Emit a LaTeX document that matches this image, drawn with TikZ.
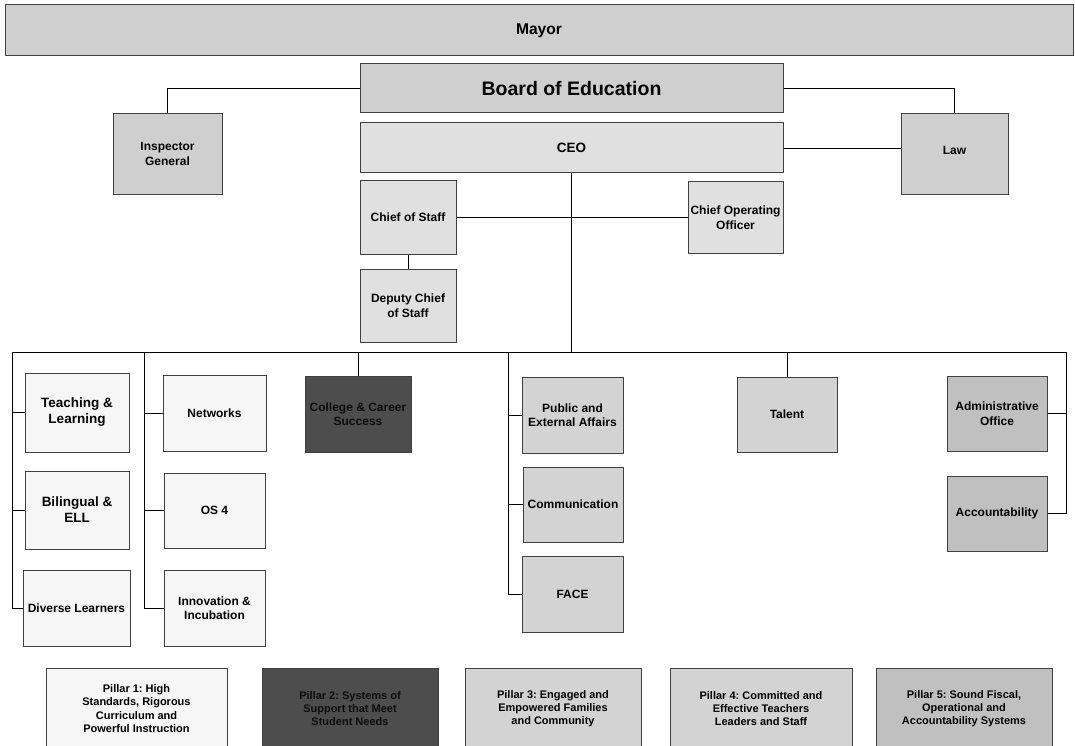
\documentclass[tikz,border=0pt]{standalone}
\usepackage{fontspec}
\setmainfont{Liberation Sans}
\usepackage{tikz}
\usepackage{xcolor}

\definecolor{topgray}{HTML}{CFCFCF}
\definecolor{ceogray}{HTML}{E0E0E0}
\definecolor{pale}{HTML}{F6F6F6}
\definecolor{dark}{HTML}{4D4D4D}
\definecolor{midgray}{HTML}{D3D3D3}
\definecolor{deepgray}{HTML}{C0C0C0}

\tikzset{
  box/.style={draw=black!75,line width=1pt,inner sep=1pt,align=center,
    font={\fontsize{12}{14.5}\selectfont\bfseries}},
  pillar/.style={box,minimum height=81pt,
    font={\fontsize{11}{13.3}\selectfont\bfseries}},
  link/.style={draw=black,line width=0.8pt}
}
\frenchspacing

\begin{document}
\begin{tikzpicture}[x=1pt,y=-1pt]
\useasboundingbox (0,0) rectangle (1075,746);
\path
    (539,30.5) node [box,fill=topgray,minimum width=1068pt,minimum height=51pt,
      font={\fontsize{15.6}{18}\selectfont\bfseries}] (mayor) {Mayor}
    (571.5,88.5) node [box,fill=topgray,minimum width=423pt,minimum height=49pt,
      font={\fontsize{19.5}{22}\selectfont\bfseries}] (board) {Board of Education}
    (167.5,154) node [box,fill=topgray,minimum width=109pt,minimum height=80pt] (insp) {Inspector\\General}
    (954.5,154) node [box,fill=topgray,minimum width=107pt,minimum height=80pt] (law) {\raisebox{8pt}{Law}}
    (571.5,148) node [box,fill=ceogray,minimum width=423pt,minimum height=50pt,
      font={\fontsize{13.5}{16}\selectfont\bfseries}] (ceo) {CEO}
    (408,217.5) node [box,fill=ceogray,minimum width=96pt,minimum height=73pt] (cos) {Chief of Staff}
    (735.5,217.5) node [box,fill=ceogray,minimum width=95pt,minimum height=71pt] (coo) {Chief Operating\\Officer}
    (408,305.5) node [box,fill=ceogray,minimum width=96pt,minimum height=73pt] (dep) {Deputy Chief\\of Staff};

\path
    (77,412.5) node [box,fill=pale,minimum width=104pt,minimum height=79pt,
      font={\fontsize{13.5}{16}\selectfont\bfseries}] (teach) {Teaching \&\\Learning}
    (77,510) node [box,fill=pale,minimum width=104pt,minimum height=78pt,
      font={\fontsize{13.5}{16}\selectfont\bfseries}] (biling) {Bilingual \&\\ELL}
    (76.5,608) node [box,fill=pale,minimum width=107pt,minimum height=76pt] (diverse) {Diverse Learners}
    (214.5,413) node [box,fill=pale,minimum width=103pt,minimum height=76pt] (netw) {Networks}
    (214.5,510.5) node [box,fill=pale,minimum width=101pt,minimum height=75pt] (os4) {OS 4}
    (214.5,608) node [box,fill=pale,minimum width=101pt,minimum height=76pt] (innov) {Innovation \&\\Incubation}
    (358,414) node [box,fill=dark,text=black!95,minimum width=106pt,minimum height=76pt] (college) {College \& Career\\Success}
    (572.5,415) node [box,fill=midgray,minimum width=101pt,minimum height=76pt] (public) {Public and\\External Affairs}
    (573,504.5) node [box,fill=midgray,minimum width=100pt,minimum height=75pt] (comm) {Communication}
    (572.5,594) node [box,fill=midgray,minimum width=101pt,minimum height=76pt] (face) {FACE}
    (787,414.5) node [box,fill=midgray,minimum width=100pt,minimum height=75pt] (talent) {Talent}
    (997,413.5) node [box,fill=deepgray,minimum width=100pt,minimum height=75pt] (admin) {Administrative\\Office}
    (997,513.5) node [box,fill=deepgray,minimum width=100pt,minimum height=75pt] (account) {Accountability};

\path
    (136.5,708.5) node [pillar,fill=pale,minimum width=181pt] (p1) {Pillar 1: High\\Standards, Rigorous\\Curriculum and\\Powerful Instruction}
    (350,708.5) node [pillar,fill=dark,text=black!95,minimum width=176pt] (p2) {Pillar 2: Systems of\\Support that Meet\\Student Needs}
    (553,708.5) node [pillar,fill=midgray,minimum width=176pt] (p3) {Pillar 3: Engaged and\\Empowered Families\\and Community}
    (761,708.5) node [pillar,fill=midgray,minimum width=182pt] (p4) {Pillar 4: Committed and\\Effective Teachers\\Leaders and Staff}
    (964,708.5) node [pillar,fill=deepgray,minimum width=176pt] (p5) {Pillar 5: Sound Fiscal,\\Operational and\\Accountability Systems};

\draw [link] (board.west) -| (insp.north);
\draw [link] (board.east) -| (law.north);
\draw [link] (ceo.east) -- (ceo.east -| law.west);
\draw [link] (cos.east) -- (coo.west);
\draw [link] (cos.south) -- (dep.north);

\coordinate (busL) at (12,352);
\coordinate (busR) at (1066,352);
\coordinate (col2) at (144,352);
\coordinate (col4) at (508,352);
\draw [link] (ceo.south) -- (ceo.south |- busL);
\draw [link] (busL) -- (busR);
\draw [link] (busL) |- (diverse.west);
\draw [link] (teach.west) -- (teach.west -| busL);
\draw [link] (biling.west) -- (biling.west -| busL);
\draw [link] (col2) |- (innov.west);
\draw [link] (netw.west) -- (netw.west -| col2);
\draw [link] (os4.west) -- (os4.west -| col2);
\draw [link] (college.north) -- (college.north |- busL);
\draw [link] (col4) |- (face.west);
\draw [link] (public.west) -- (public.west -| col4);
\draw [link] (comm.west) -- (comm.west -| col4);
\draw [link] (talent.north) -- (talent.north |- busL);
\draw [link] (busR) |- (account.east);
\draw [link] (admin.east) -- (admin.east -| busR);
\end{tikzpicture}
\end{document}
